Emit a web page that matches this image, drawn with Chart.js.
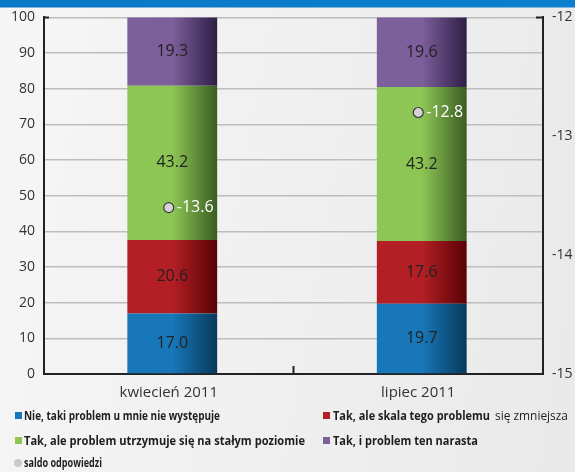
<!DOCTYPE html>
<html lang="pl">
<head>
<meta charset="utf-8">
<script src="https://cdn.jsdelivr.net/npm/chart.js@4.4.1/dist/chart.umd.min.js"></script>
<style>
  html, body { margin: 0; padding: 0; }
  body {
    width: 575px; height: 472px; overflow: hidden; position: relative;
    background: linear-gradient(100deg, #f6f6f6 0%, #efefef 55%, #e9e9e9 100%);
    font-family: "Open Sans", "Noto Sans", sans-serif;
  }
  #band {
    position: absolute; left: 0; top: 0; width: 575px; height: 7px;
    background: linear-gradient(90deg, #0a78c4, #0a80cf);
    border-bottom: 1px solid #7fb6de;
  }
  #wrap { position: absolute; left: 0; top: 0; width: 575px; height: 472px; }
  .lt {
    position: absolute; font-family: "Open Sans", "Noto Sans", sans-serif;
    font-size: 12.5px; line-height: 16px; color: #1e1e1e; white-space: nowrap;
    transform-origin: 0 50%;
  }
  .lt.b { font-weight: bold; }
  .sw { position: absolute; width: 7px; height: 7px; }
  .dot { position: absolute; width: 8px; height: 8px; border-radius: 50%; background: #cacaca; }
</style>
</head>
<body>
<div id="band"></div>
<div id="wrap"><canvas id="c" width="575" height="472"></canvas></div>
<div id="legend"></div>
<script>
// Survey waves
const categories = ['kwiecień 2011', 'lipiec 2011'];

// Answer shares (%), bottom to top of each stack
const nieVals = [17.0, 19.7];
const zmniejszaVals = [20.6, 17.6];
const stalyVals = [43.2, 43.2];
const narastaVals = [19.3, 19.6];

// Balance of answers, right axis
const saldoVals = [-13.6, -12.8];

// Legend captions
const legendNie = 'Nie, taki problem u mnie nie występuje';
const legendZmniejsza = 'Tak, ale skala tego problemu';
const legendZmniejszaTail = 'się zmniejsza';
const legendStaly = 'Tak, ale problem utrzymuje się na stałym poziomie';
const legendNarasta = 'Tak, i problem ten narasta';
const legendSaldo = 'saldo odpowiedzi';

// Colours: light face and dark right edge of each bar
const palette = {
  nie: ['#1777b8', '#083a5c'],
  zmn: ['#b31f25', '#5a0204'],
  staly: ['#8ec655', '#3a5c23'],
  nar: ['#7d5f9c', '#2e1f45']
};

const BAR_PCT = 0.36;
const BAR_SHIFT = 3.5; // bars sit slightly right of the category centre

function barGradient(pair) {
  return function (ctx) {
    const chart = ctx.chart;
    const xs = chart.scales.x;
    if (!xs || !chart.chartArea || ctx.dataIndex === undefined) return pair[0];
    const cx = xs.getPixelForValue(ctx.dataIndex);
    const w = (xs.width / categories.length) * BAR_PCT;
    const g = chart.ctx.createLinearGradient(cx - w / 2, 0, cx + w / 2, 0);
    g.addColorStop(0, pair[0]);
    g.addColorStop(0.5, pair[0]);
    g.addColorStop(1, pair[1]);
    return g;
  };
}

// Nudges the stacked bars right of the category centre
const shiftPlugin = {
  id: 'shift',
  beforeDatasetDraw(chart, args) {
    if (args.meta.type === 'bar') { chart.ctx.save(); chart.ctx.translate(BAR_SHIFT, 0); }
  },
  afterDatasetDraw(chart, args) {
    if (args.meta.type === 'bar') chart.ctx.restore();
  }
};

// Values written in the middle of every segment, and beside the balance points
const labelPlugin = {
  id: 'labels',
  afterDatasetsDraw(chart) {
    const c = chart.ctx;
    c.save();
    c.font = '16px "Open Sans", "Noto Sans", sans-serif';
    c.textAlign = 'center';
    c.textBaseline = 'middle';
    c.fillStyle = '#222';
    for (let d = 0; d < 4; d++) {
      const meta = chart.getDatasetMeta(d);
      meta.data.forEach((bar, i) => {
        const v = chart.data.datasets[d].data[i];
        c.fillText(v.toFixed(1), bar.x + BAR_SHIFT, (bar.y + bar.base) / 2);
      });
    }
    const pm = chart.getDatasetMeta(4);
    c.textAlign = 'left';
    c.fillStyle = '#ffffff';
    pm.data.forEach((pt, i) => {
      c.fillText(saldoVals[i].toFixed(1), pt.x + 8, pt.y);
    });
    c.restore();
  }
};

// Frame details: small hooks at the top of both axes and a divider tick between categories
const framePlugin = {
  id: 'frame',
  afterDraw(chart) {
    const a = chart.chartArea;
    const c = chart.ctx;
    c.save();
    c.strokeStyle = '#222';
    c.lineWidth = 2;
    c.beginPath();
    c.moveTo(a.left, a.top); c.lineTo(a.left + 5, a.top);
    c.moveTo(a.right, a.top); c.lineTo(a.right - 7, a.top);
    const mid = (a.left + a.right) / 2;
    c.moveTo(mid, a.bottom); c.lineTo(mid, a.bottom - 8);
    c.stroke();
    c.restore();
  }
};

const chart = new Chart(document.getElementById('c'), {
  data: {
    labels: categories,
    datasets: [
      { type: 'bar', data: nieVals, backgroundColor: barGradient(palette.nie), yAxisID: 'y', order: 2 },
      { type: 'bar', data: zmniejszaVals, backgroundColor: barGradient(palette.zmn), yAxisID: 'y', order: 2 },
      { type: 'bar', data: stalyVals, backgroundColor: barGradient(palette.staly), yAxisID: 'y', order: 2 },
      { type: 'bar', data: narastaVals, backgroundColor: barGradient(palette.nar), yAxisID: 'y', order: 2 },
      {
        type: 'line', data: saldoVals, yAxisID: 'y1', order: 1, showLine: false,
        pointRadius: 5, pointBackgroundColor: '#d3d3d5', pointBorderColor: '#3a3a3a', pointBorderWidth: 1.2
      }
    ]
  },
  options: {
    responsive: false,
    animation: false,
    devicePixelRatio: 1,
    layout: { padding: { top: 16, bottom: 72, left: 0, right: 0 } },
    plugins: { legend: { display: false }, tooltip: { enabled: false } },
    datasets: { bar: { barPercentage: 1, categoryPercentage: BAR_PCT, borderWidth: 0 } },
    scales: {
      x: {
        stacked: true,
        grid: { display: false },
        border: { display: true, color: '#222', width: 2 },
        ticks: { color: '#333', font: { family: '"Open Sans", "Noto Sans", sans-serif', size: 15 }, padding: 2 },
        afterFit(s) { s.height = 26; }
      },
      y: {
        stacked: true, position: 'left', min: 0, max: 100,
        ticks: { stepSize: 10, color: '#333', font: { family: '"Open Sans", "Noto Sans", sans-serif', size: 14 }, padding: 9 },
        grid: { color: '#bdbdbd', lineWidth: 1.5, drawTicks: false },
        border: { display: true, color: '#222', width: 2 },
        afterFit(s) { s.width = 44; }
      },
      y1: {
        position: 'right', min: -15, max: -12,
        ticks: { stepSize: 1, color: '#333', font: { family: '"Open Sans", "Noto Sans", sans-serif', size: 14 }, padding: 9 },
        grid: { display: false, drawTicks: false },
        border: { display: true, color: '#222', width: 2 },
        afterFit(s) { s.width = 32; }
      }
    }
  },
  plugins: [shiftPlugin, labelPlugin, framePlugin]
});

// Legend below the chart: swatches, then captions fitted to their slots
const legendBox = document.getElementById('legend');
function swatch(cls, x, y, color) {
  const s = document.createElement('div');
  s.className = cls;
  s.style.left = x + 'px';
  s.style.top = y + 'px';
  if (color) s.style.background = color;
  legendBox.appendChild(s);
}
function caption(text, x, cy, width, bold) {
  const t = document.createElement('div');
  t.className = 'lt' + (bold ? ' b' : '');
  t.textContent = text;
  t.style.left = x + 'px';
  t.style.top = (cy - 8) + 'px';
  legendBox.appendChild(t);
  const w = t.getBoundingClientRect().width;
  t.style.transform = 'scaleX(' + (width / w).toFixed(4) + ')';
}
swatch('sw', 15, 412, palette.nie[0]);
caption(legendNie, 24, 416, 196, true);
swatch('sw', 323, 412, palette.zmn[0]);
caption(legendZmniejsza, 333, 416, 157, true);
caption(legendZmniejszaTail, 495, 416, 73, false);
swatch('sw', 15, 437, palette.staly[0]);
caption(legendStaly, 24, 441, 281, true);
swatch('sw', 323, 437, palette.nar[0]);
caption(legendNarasta, 333, 441, 145, true);
swatch('dot', 14, 459);
caption(legendSaldo, 24, 463, 78, true);
</script>
</body>
</html>
